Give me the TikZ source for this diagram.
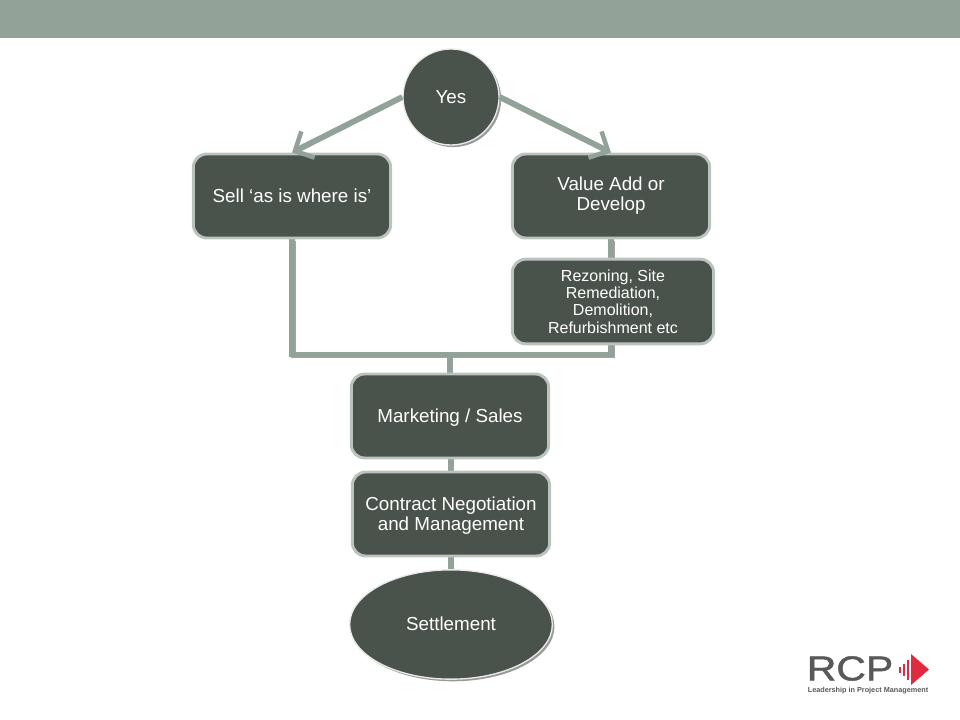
\documentclass[tikz,border=0pt]{standalone}
\usepackage{fontspec}
\setmainfont{Liberation Sans}
\newfontfamily\logofont[FakeBold=1.2]{Liberation Sans}
\usetikzlibrary{arrows.meta,shapes.geometric,shadows,backgrounds}
\definecolor{bandgrey}{HTML}{93A299}
\definecolor{boxdark}{HTML}{4A534B}
\definecolor{boxedge}{HTML}{BAC3BD}
\definecolor{logogrey}{HTML}{59595B}
\definecolor{logored}{HTML}{DF2A40}
\tikzset{
	softshadow/.style={drop shadow={shadow xshift=1.6pt,shadow yshift=-1.6pt,fill=black,opacity=0.4}},
	roundbox/.style={draw=boxedge,line width=2.2pt,fill=boxdark,rounded corners=10pt,text=white,align=flush center,minimum width=148pt,minimum height=63pt,text width=140pt,font=\fontsize{14.1}{15}\selectfont},
	smallbox/.style={roundbox,minimum width=151pt,minimum height=63.5pt,text width=144pt,font=\fontsize{12}{13}\selectfont},
	roundnode/.style={draw=boxedge!35!white,line width=1pt,fill=boxdark,text=white,softshadow,font=\fontsize{14.1}{15}\selectfont},
	link/.style={bandgrey,line width=3.8pt},
	linkshadow/.style={black!60,line width=3.8pt,opacity=0.6},
	barb/.style={link,line width=4.4pt,-{Straight Barb[length=11pt,width=22pt,line width=3.4pt]}}
}
\begin{document}
\begin{tikzpicture}[x=0.75pt,y=0.75pt,yscale=-1,xscale=1]
	\useasboundingbox (0,0) rectangle (960,720);
	\fill[bandgrey] (0,0) rectangle (960,38);
	
	\node[roundnode,circle,minimum size=72pt,inner sep=0pt] (yes) at (451,97) {Yes};
	\node[roundbox] (sell) at (292,196) {Sell ‘as is where is’};
	\node[roundbox] (value) at (611,196) {Value Add or\\Develop};
	\node[smallbox] (rezone) at (613,301.5) {Rezoning, Site\\Remediation,\\Demolition,\\Refurbishment etc};
	\node[roundbox,text depth=0pt] (market) at (450,416) {Marketing / Sales};
	\node[roundbox,text depth=15pt] (contract) at (451,514) {Contract Negotiation\\and Management};
	\node[roundnode,ellipse,minimum width=152pt,minimum height=82pt,inner sep=0pt] (settle) at (451,624.5) {\raisebox{1.5pt}{Settlement}};
	\coordinate (join) at (market.north |- 0,354.5);
	
	% connectors behind the boxes
	\begin{pgfonlayer}{background}
		\draw[linkshadow,transform canvas={xshift=1pt,yshift=-1pt}] (sell.south) |- (join) -| (value.south);
		\draw[link] (sell.south) |- (join) -| (value.south);
		\draw[link] (join) -- (market.north);
		\draw[link] (contract.north |- market.south) -- (contract.north);
		\draw[link] (contract.south) -- (settle.north);
	\end{pgfonlayer}
	\draw[barb] (yes.west) -- (sell.north);
	\draw[barb] (yes.east) -- (value.north);
	
	% logo
	\node[text=logogrey,inner sep=0pt,xscale=1.18,font=\logofont\fontsize{26}{26}\selectfont] (rcp) at (850,668.5) {RCP};
	\node[text=logogrey,inner sep=0pt,font=\bfseries\fontsize{5.45}{6}\selectfont] (tagline) at (868,691) {Leadership in Project Management};
	\fill[logored] (911,654) -- (929,669.5) -- (911,685) -- cycle;
	\foreach \barx/\barh in {899/3,903/6,907/10}
		\fill[logored] (\barx,669.5-\barh) rectangle ++(2.4,2*\barh);
\end{tikzpicture}
\end{document}
